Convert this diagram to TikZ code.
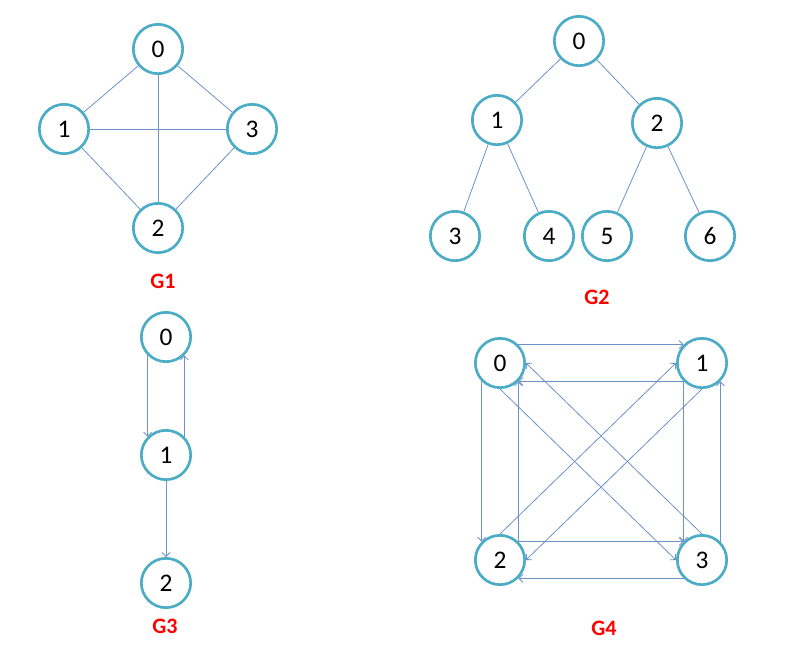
\documentclass[tikz,border=0pt]{standalone}
\usepackage{fontspec}
\setmainfont{Carlito}
\usetikzlibrary{arrows.meta}
\definecolor{ringc}{RGB}{75,172,198}
\definecolor{edgec}{RGB}{110,145,200}
\definecolor{labc}{RGB}{255,0,0}
\begin{document}
\begin{tikzpicture}[x=0.75pt,y=-0.75pt,
  vtx/.style={circle,draw=ringc,line width=2pt,fill=white,minimum size=37pt,inner sep=0pt,
    font=\fontsize{19}{22}\selectfont},
  edg/.style={draw=edgec,line width=0.6pt},
  arr/.style={edg,-{Straight Barb[length=3pt,width=6pt]}},
  glab/.style={text=labc,font=\fontsize{16.5}{19}\selectfont\bfseries}]
\useasboundingbox (0,0) rectangle (804,668);
% G1
\node[vtx] (a0) at (158,49) {0};
\node[vtx] (a1) at (64,129) {1};
\node[vtx] (a3) at (252,129) {3};
\node[vtx] (a2) at (158,228) {2};
\draw[edg] (a0) -- (a1);
\draw[edg] (a0) -- (a3);
\draw[edg] (a0) -- (a2);
\draw[edg] (a1) -- (a3);
\draw[edg] (a1) -- (a2);
\draw[edg] (a3) -- (a2);
\node[glab] (l1) at (163,281) {G1};
% G2
\node[vtx] (b0) at (579,41) {0};
\node[vtx] (b1) at (497,120) {1};
\node[vtx] (b2) at (657,123) {2};
\node[vtx] (b3) at (455,236) {3};
\node[vtx] (b4) at (549,236) {4};
\node[vtx] (b5) at (607,236) {5};
\node[vtx] (b6) at (710,236) {6};
\draw[edg] (b0) -- (b1);
\draw[edg] (b0) -- (b2);
\draw[edg] (b1) -- (b3);
\draw[edg] (b1) -- (b4);
\draw[edg] (b2) -- (b5);
\draw[edg] (b2) -- (b6);
\node[glab] (l2) at (597,297) {G2};
% G3
\node[vtx] (c0) at (166,337) {0};
\node[vtx] (c1) at (166,455) {1};
\node[vtx] (c2) at (166,583) {2};
\draw[arr] (c0.225) -- (c1.135);
\draw[arr] (c1.45) -- (c0.-45);
\draw[arr] (c1) -- (c2);
\node[glab] (l3) at (165,626) {G3};
% G4
\node[vtx] (d0) at (500,363) {0};
\node[vtx] (d1) at (702,363) {1};
\node[vtx] (d2) at (500,560) {2};
\node[vtx] (d3) at (702,560) {3};
\draw[arr] (d0.45) -- (d1.135);
\draw[arr] (d1.225) -- (d0.-45);
\draw[arr] (d0.225) -- (d2.135);
\draw[arr] (d2.45) -- (d0.-45);
\draw[arr] (d2.45) -- (d3.135);
\draw[arr] (d3.225) -- (d2.-45);
\draw[arr] (d1.225) -- (d3.135);
\draw[arr] (d3.45) -- (d1.-45);
\draw[arr] (d0.-90) -- (d3.180);
\draw[arr] (d3.90) -- (d0.0);
\draw[arr] (d2.90) -- (d1.180);
\draw[arr] (d1.-90) -- (d2.0);
\node[glab] (l4) at (604,628) {G4};
\end{tikzpicture}
\end{document}
